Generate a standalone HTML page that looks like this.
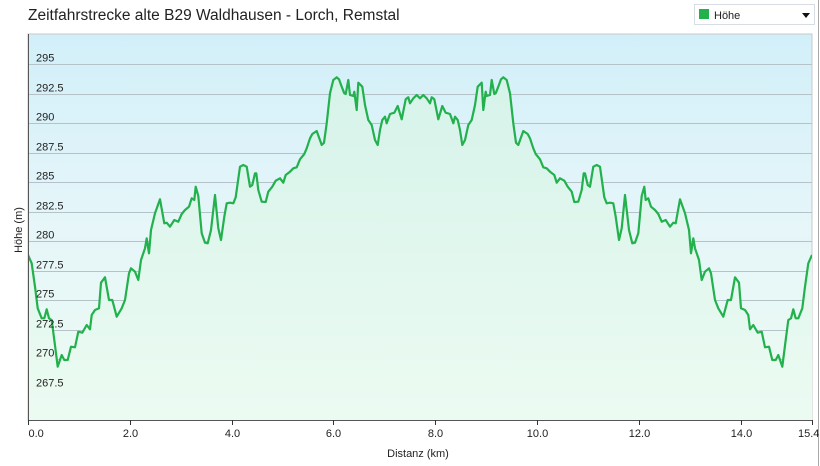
<!DOCTYPE html>
<html><head><meta charset="utf-8"><style>
body{margin:0;background:#fff;width:820px;height:466px;overflow:hidden;font-family:"Liberation Sans",Arial,sans-serif}
</style></head><body>
<svg width="820" height="466" xmlns="http://www.w3.org/2000/svg" style="position:absolute;left:0;top:0">
<defs>
<linearGradient id="bg" x1="0" y1="0" x2="0" y2="1">
<stop offset="0" stop-color="#d2eff9"/><stop offset="0.5" stop-color="#e6f6f9"/><stop offset="1" stop-color="#ecfbf1"/></linearGradient>
<linearGradient id="fl" x1="0" y1="0" x2="0" y2="1">
<stop offset="0" stop-color="#d6f3ea"/><stop offset="1" stop-color="#ecfbf2"/></linearGradient>
<clipPath id="cp"><rect x="28" y="34" width="784" height="386"/></clipPath>
</defs>
<text x="28" y="20" font-size="15.5" fill="#222">Zeitfahrstrecke alte B29 Waldhausen - Lorch, Remstal</text>
<rect x="694.5" y="4.5" width="120" height="20" fill="#fff" stroke="#d8dde3"/>
<rect x="699" y="9" width="10" height="10" fill="#22b14c"/>
<text x="714" y="19" font-size="11" fill="#222">Höhe</text>
<path d="M802 13 L810 13 L806 18 Z" fill="#111"/>
<line x1="818.5" y1="0" x2="818.5" y2="466" stroke="#a8a8a8"/>
<rect x="28" y="34" width="784" height="386" fill="url(#bg)" stroke="#c8c8c8"/>
<g id="grid" stroke="#b5c3c8" stroke-width="1"></g>
<path id="area" fill="url(#fl)" clip-path="url(#cp)"/>
<path id="line" fill="none" stroke="#22b14c" stroke-width="2.2" stroke-linejoin="round" clip-path="url(#cp)"/>
<line x1="28.5" y1="34" x2="28.5" y2="420" stroke="#555"/>
<line x1="28" y1="420.5" x2="812" y2="420.5" stroke="#555"/>
<g id="lbl" font-size="11" fill="#222"></g>
<text x="418" y="457" font-size="11" fill="#222" text-anchor="middle">Distanz  (km)</text>
<text transform="translate(22,230) rotate(-90)" font-size="11" fill="#222" text-anchor="middle">Höhe (m)</text>
</svg>
<script>
var ns="http://www.w3.org/2000/svg";
function el(t,a,p,txt){var e=document.createElementNS(ns,t);for(var k in a)e.setAttribute(k,a[k]);if(txt)e.textContent=txt;document.getElementById(p).appendChild(e);}
var Y=function(v){return 389-(v-267.5)*11.82;};
var ys=[295,292.5,290,287.5,285,282.5,280,277.5,275,272.5,270,267.5];
ys.forEach(function(v){var y=Math.round(Y(v))+0.5;el('line',{x1:29,x2:812,y1:y,y2:y},'grid');el('text',{x:36,y:y-3},'lbl',String(v));});
var xs=[0,2,4,6,8,10,12,14];
xs.forEach(function(k){var x=Math.round(28+k*50.9)+0.5;el('line',{x1:x,x2:x,y1:420,y2:425,stroke:'#333'},'lbl');el('text',{x:x,y:437,'text-anchor':k==0?'start':'middle'},'lbl',k.toFixed(1));});
el('line',{x1:812.5,x2:812.5,y1:420,y2:425,stroke:'#333'},'lbl');el('text',{x:798,y:437},'lbl','15.4');
var z=[[10,585],[20,610],[30,680],[38,745],[50,775],[58,775],[65,748],[72,775],[80,780],[88,840],[98,920],[110,885],[118,900],[128,900],[138,860],[150,862],[160,815],[172,818],[185,795],[195,808],[200,765],[210,750],[222,745],[228,668],[240,652],[252,720],[262,720],[275,770],[290,745],[300,720],[312,640],[318,625],[330,635],[340,660],[348,600],[360,565],[365,535],[372,580],[378,510],[390,460],[405,418],[418,490],[425,488],[435,500],[448,480],[460,485],[470,462],[480,450],[492,440],[500,415],[508,420],[512,380],[520,408],[530,520],[540,548],[548,550],[558,510],[570,405],[580,505],[588,540],[598,470],[605,430],[615,428],[625,430],[632,412],[645,320],[655,315],[665,320],[675,380],[682,375],[690,340],[694,340],[700,390],[710,425],[722,426],[730,395],[742,380],[752,362],[765,355],[775,368],[782,345],[795,335],[805,325],[815,322],[825,298],[838,282],[845,265],[855,235],[862,222],[875,213],[883,235],[890,255],[897,248],[905,190],[915,100],[925,60],[935,52],[942,58],[950,80],[958,100],[962,102],[970,60],[975,105],[985,108],[988,95],[995,150],[1000,68],[1012,80],[1020,135],[1030,180],[1040,195],[1050,240],[1058,255],[1065,210],[1072,180],[1080,170],[1085,190],[1095,162],[1108,158],[1118,138],[1130,178],[1142,118],[1150,112],[1155,130],[1165,115],[1175,105],[1185,115]];
var pts=z.map(function(p){return [25+p[0]/3,60+p[1]/3];});
pts[0][0]=28;
var right=pts.slice().reverse().map(function(p){return [840-p[0],p[1]];});
var all=pts.concat(right);
all[all.length-1][0]=812;
var d=all.map(function(p,i){return (i?'L':'M')+p[0].toFixed(1)+' '+p[1].toFixed(1);}).join(' ');
document.getElementById('line').setAttribute('d',d);
document.getElementById('area').setAttribute('d',d+' L812 420 L28 420 Z');
</script>
</body></html>
